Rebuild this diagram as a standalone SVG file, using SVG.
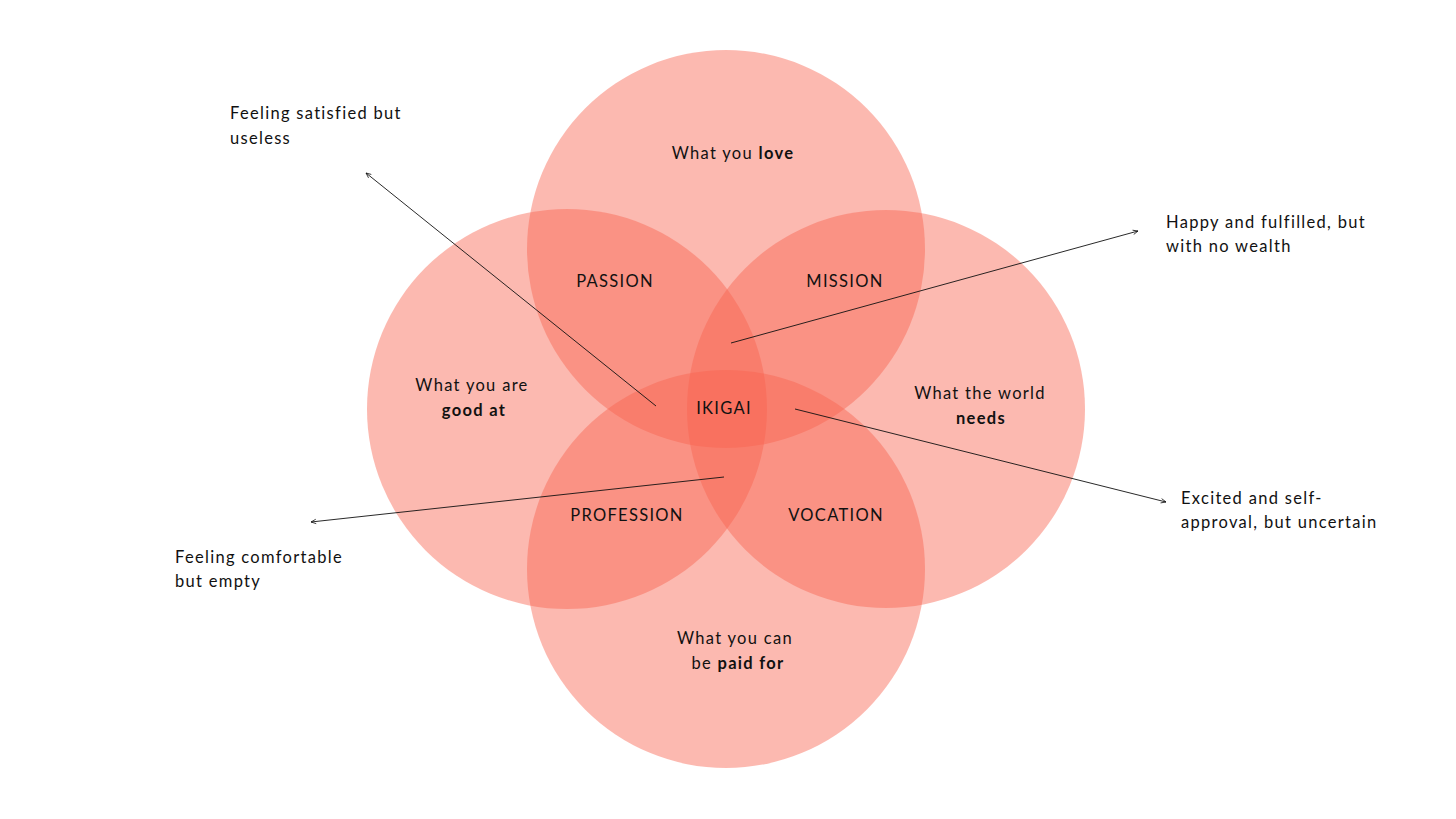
<svg xmlns="http://www.w3.org/2000/svg" width="1456" height="819" viewBox="0 0 1456 819">
<style>
.c{fill:rgb(248,100,80);fill-opacity:0.45}
text{font-family:Lato,"Open Sans",sans-serif;font-size:16.5px;fill:#111;letter-spacing:1.3px}
.m{text-anchor:middle}
.b{font-weight:bold}
.l{stroke:#111;stroke-width:0.9;fill:none;marker-end:url(#a)}
</style>
<defs><marker id="a" viewBox="0 0 10 10" refX="9" refY="5" markerWidth="7" markerHeight="7" orient="auto"><path d="M1,1.5 L9,5 L1,8.5" fill="none" stroke="#111" stroke-width="1.2"/></marker></defs>
<rect width="1456" height="819" fill="#fff"/>
<g id="love"><circle class="c" cx="726" cy="249" r="199"/><text class="m" x="733" y="159">What you <tspan class="b">love</tspan></text></g>
<g id="good"><circle class="c" cx="567" cy="409" r="200"/><text class="m" x="472" y="391">What you are</text><text class="m b" x="474" y="416">good at</text></g>
<g id="world"><circle class="c" cx="886" cy="409" r="199"/><text class="m" x="980" y="399">What the world</text><text class="m b" x="981" y="424">needs</text></g>
<g id="paid"><circle class="c" cx="726" cy="569" r="199"/><text class="m" x="735" y="644">What you can</text><text class="m" x="738" y="669">be <tspan class="b">paid for</tspan></text></g>
<g id="labels">
<text class="m" x="615" y="287">PASSION</text>
<text class="m" x="845" y="287">MISSION</text>
<text class="m" x="627" y="521">PROFESSION</text>
<text class="m" x="836" y="521">VOCATION</text>
<text class="m" x="724" y="414">IKIGAI</text>
</g>
<g id="connectors">
<line class="l" x1="656" y1="406" x2="366" y2="173"/>
<line class="l" x1="731" y1="343" x2="1138" y2="231"/>
<line class="l" x1="795" y1="409" x2="1166" y2="502"/>
<line class="l" x1="724" y1="477" x2="311" y2="522"/>
</g>
<g id="notes">
<text x="230" y="119">Feeling satisfied but</text><text x="230" y="144">useless</text>
<text x="1166" y="228">Happy and fulfilled, but</text><text x="1166" y="252">with no wealth</text>
<text x="1181" y="504">Excited and self-</text><text x="1181" y="528">approval, but uncertain</text>
<text x="175" y="563">Feeling comfortable</text><text x="175" y="587">but empty</text>
</g>
</svg>
